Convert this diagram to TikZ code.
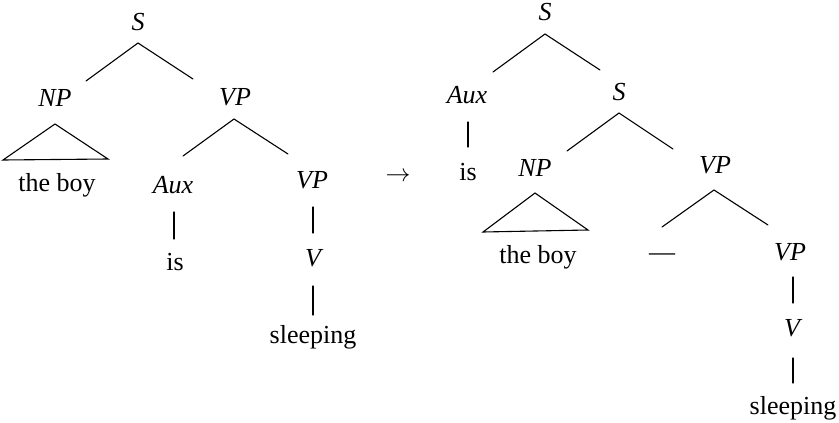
\documentclass[tikz,border=0pt]{standalone}
\usepackage{fontspec}
\setmainfont{Liberation Serif}
\usepackage{tikz}
\usetikzlibrary{calc}
\newcommand{\treefont}{\fontsize{26}{31}\selectfont}
\tikzstyle{cat} = [font=\treefont\itshape,inner sep=0pt]
\tikzstyle{word} = [font=\treefont,inner sep=0pt]
\tikzstyle{branch} = [line width=1.1pt,line cap=round]

\begin{document}
\begin{tikzpicture}[x=1pt,y=-1pt]
\useasboundingbox (0,0) rectangle (839,423);

% Left tree: categories
\node[cat] (S1) at (138,22) {S};
\node[cat] (NP1) at (55,98) {NP};
\node[cat] (VP1) at (235,97) {VP};
\node[cat] (Aux1) at (173,185) {Aux};
\node[cat] (VP2) at (312,180) {VP};
\node[cat] (V1) at (313,258) {V};

% Left tree: words
\node[word] (boy1) at (57,185) {the boy};
\node[word] (is1) at (175,262) {is};
\node[word] (sleep1) at (313,337) {sleeping};

% Left tree: branches
\draw[branch] ($(NP1)+(31,-17)$) -- ($(S1)+(0,21)$) -- ($(VP1)+(-42,-18)$);
\draw[branch] ($(Aux1)+(10,-29)$) -- ($(VP1)+(-1,22)$) -- ($(VP2)+(-24,-26)$);
\draw[branch] ($(NP1)+(-52,62)$) -- ($(NP1)+(0,26)$) -- ($(NP1)+(53,61)$) -- cycle;
\draw[branch] ($(Aux1)+(1,27)$) -- ($(is1)+(-1,-23)$);
\draw[branch] ($(VP2)+(1,27)$) -- ($(V1)+(0,-25)$);
\draw[branch] ($(V1)+(0,28)$) -- ($(sleep1)+(0,-22)$);

% Arrow between the trees
\node[word] (arr) at (398,177) {$\rightarrow$};

% Right tree: categories
\node[cat] (S2) at (545,12) {S};
\node[cat] (Aux2) at (467,95) {Aux};
\node[cat] (S3) at (619,92) {S};
\node[cat] (NP2) at (535,168) {NP};
\node[cat] (VP3) at (715,165) {VP};
\node[cat] (VP4) at (790,252) {VP};
\node[cat] (V2) at (792,328) {V};

% Right tree: words
\node[word] (is2) at (468,172) {is};
\node[word] (boy2) at (538,257) {the boy};
\node[word] (trace) at (662,257) {---};
\node[word] (sleep2) at (793,408) {sleeping};

% Right tree: branches
\draw[branch] ($(Aux2)+(26,-23)$) -- ($(S2)+(0,22)$) -- ($(S3)+(-19,-22)$);
\draw[branch] ($(NP2)+(32,-17)$) -- ($(S3)+(0,21)$) -- ($(VP3)+(-42,-16)$);
\draw[branch] ($(trace)+(0,-30)$) -- ($(VP3)+(-1,25)$) -- ($(VP4)+(-22,-27)$);
\draw[branch] ($(NP2)+(-52,64)$) -- ($(NP2)+(0,25)$) -- ($(NP2)+(53,62)$) -- cycle;
\draw[branch] ($(Aux2)+(1,27)$) -- ($(is2)+(0,-25)$);
\draw[branch] ($(VP4)+(3,25)$) -- ($(V2)+(1,-25)$);
\draw[branch] ($(V2)+(1,30)$) -- ($(sleep2)+(0,-25)$);
\end{tikzpicture}
\end{document}
